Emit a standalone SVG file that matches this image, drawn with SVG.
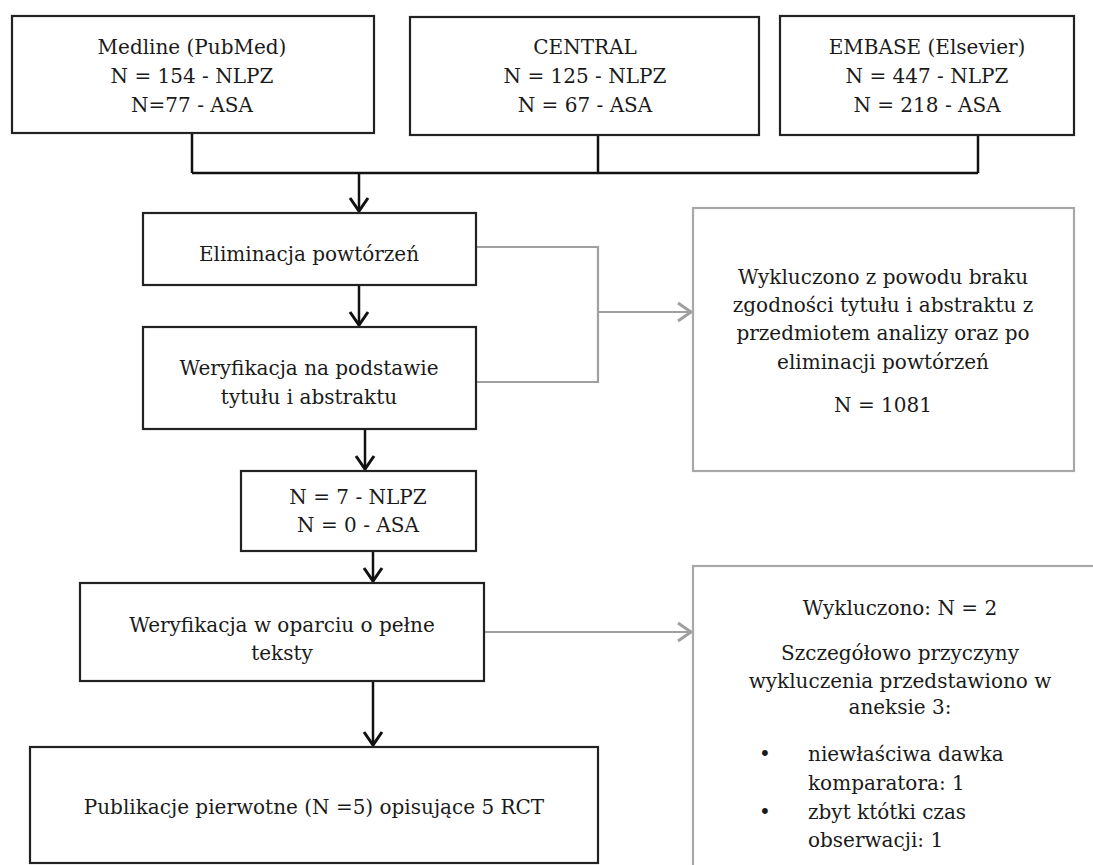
<svg xmlns="http://www.w3.org/2000/svg" width="1093" height="865" viewBox="0 0 1093 865">
<style>
text{font-family:"DejaVu Serif","Liberation Serif",serif;font-size:20px;fill:#1a1a1a;text-anchor:middle}
.box{fill:#fff;stroke:#222;stroke-width:2.2}
.gbox{fill:#fff;stroke:#a8a8a8;stroke-width:2.2}
.ln{fill:none;stroke:#111;stroke-width:2.5}
.gln{fill:none;stroke:#a0a0a0;stroke-width:2.2}
.l{text-anchor:start}
</style>
<defs>
<marker id="ah" markerUnits="userSpaceOnUse" markerWidth="30" markerHeight="30" refX="0" refY="0" viewBox="-15 -15 30 30" orient="auto" overflow="visible">
<path d="M-13,-9 L0,0 L-13,9" fill="none" stroke="#111" stroke-width="3"/>
</marker>
<marker id="gah" markerUnits="userSpaceOnUse" markerWidth="30" markerHeight="30" refX="0" refY="0" viewBox="-15 -15 30 30" orient="auto" overflow="visible">
<path d="M-13,-9 L0,0 L-13,9" fill="none" stroke="#a0a0a0" stroke-width="3"/>
</marker>
</defs>
<rect width="1093" height="865" fill="#fff"/>
<g id="connectors">
<path class="ln" d="M192,133 V173 M598,135 V173 M978,135 V173 M192,173 H978"/>
<path class="ln" d="M359,173 V211" marker-end="url(#ah)"/>
<path class="ln" d="M359,285 V325" marker-end="url(#ah)"/>
<path class="ln" d="M365,429 V469" marker-end="url(#ah)"/>
<path class="ln" d="M373,551 V581" marker-end="url(#ah)"/>
<path class="ln" d="M373,681 V745" marker-end="url(#ah)"/>
<path class="gln" d="M476,247 H598 V382 H476"/>
<path class="gln" d="M598,312 H691" marker-end="url(#gah)"/>
<path class="gln" d="M484,632 H691" marker-end="url(#gah)"/>
</g>
<g id="medline">
<rect class="box" x="12" y="16" width="362" height="117"/>
<text x="192" y="54">Medline (PubMed)</text>
<text x="192" y="83">N = 154 - NLPZ</text>
<text x="192" y="112">N=77 - ASA</text>
</g>
<g id="central">
<rect class="box" x="410" y="17" width="349" height="118"/>
<text x="585" y="54">CENTRAL</text>
<text x="585" y="83">N = 125 - NLPZ</text>
<text x="585" y="112">N = 67 - ASA</text>
</g>
<g id="embase">
<rect class="box" x="780" y="16" width="294" height="119"/>
<text x="927" y="54">EMBASE (Elsevier)</text>
<text x="927" y="83">N = 447 - NLPZ</text>
<text x="927" y="112">N = 218 - ASA</text>
</g>
<g id="eliminacja">
<rect class="box" x="143" y="213" width="333" height="72"/>
<text x="309" y="261">Eliminacja powtórzeń</text>
</g>
<g id="weryfikacja1">
<rect class="box" x="143" y="327" width="333" height="102"/>
<text x="309" y="375">Weryfikacja na podstawie</text>
<text x="309" y="404">tytułu i abstraktu</text>
</g>
<g id="wynik1">
<rect class="box" x="241" y="471" width="235" height="80"/>
<text x="358" y="504">N = 7 - NLPZ</text>
<text x="358" y="532">N = 0 - ASA</text>
</g>
<g id="weryfikacja2">
<rect class="box" x="80" y="583" width="404" height="98"/>
<text x="282" y="632">Weryfikacja w oparciu o pełne</text>
<text x="282" y="660">teksty</text>
</g>
<g id="publikacje">
<rect class="box" x="30" y="747" width="568" height="116"/>
<text x="314" y="814">Publikacje pierwotne (N =5) opisujące 5 RCT</text>
</g>
<g id="wykluczono1">
<rect class="gbox" x="693" y="208" width="381" height="263"/>
<text x="883" y="284">Wykluczono z powodu braku</text>
<text x="883" y="312">zgodności tytułu i abstraktu z</text>
<text x="883" y="340">przedmiotem analizy oraz po</text>
<text x="883" y="369">eliminacji powtórzeń</text>
<text x="883" y="412">N = 1081</text>
</g>
<g id="wykluczono2">
<rect class="gbox" x="693" y="566" width="420" height="320"/>
<text x="900" y="615">Wykluczono: N = 2</text>
<text x="900" y="660">Szczegółowo przyczyny</text>
<text x="900" y="688">wykluczenia przedstawiono w</text>
<text x="900" y="714">aneksie 3:</text>
<text x="765" y="761">•</text>
<text class="l" x="808" y="761">niewłaściwa dawka</text>
<text class="l" x="808" y="790">komparatora: 1</text>
<text x="765" y="819">•</text>
<text class="l" x="808" y="819">zbyt któtki czas</text>
<text class="l" x="808" y="847">obserwacji: 1</text>
</g>
</svg>
